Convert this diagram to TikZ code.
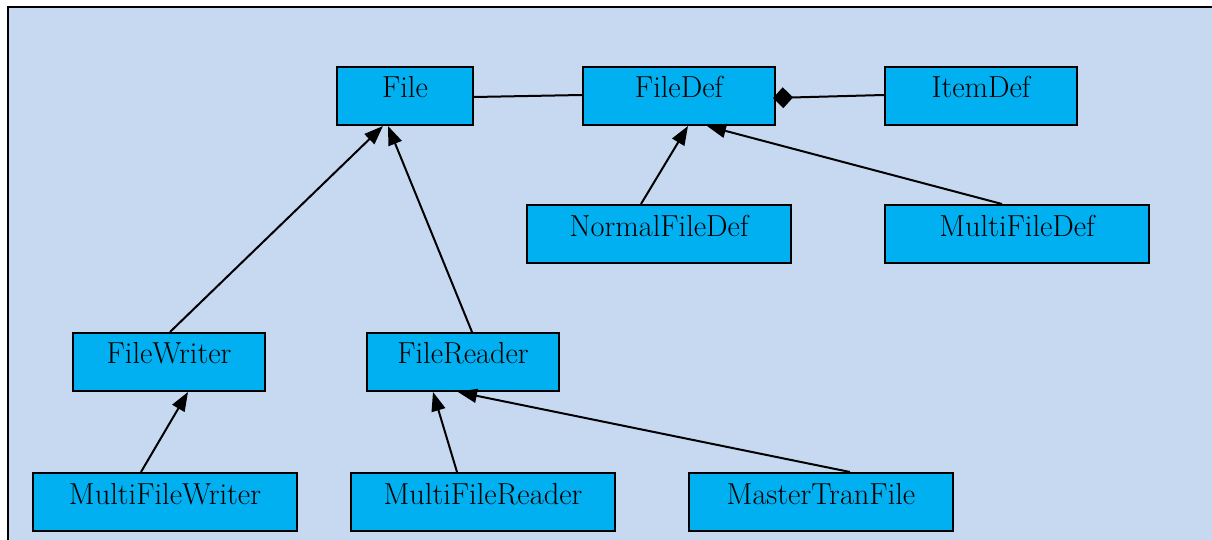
\documentclass[tikz,border=0pt]{standalone}
\usetikzlibrary{arrows.meta}
\definecolor{panel}{RGB}{198,217,241}
\definecolor{classfill}{RGB}{0,176,240}
\tikzset{
  cls/.style={draw=black, line width=1pt, fill=classfill, rectangle,
    minimum height=29pt, inner xsep=0pt, inner ysep=5.5pt,
    text height=10pt, text depth=8pt,
    font=\fontsize{15.2pt}{18pt}\selectfont},
  narrow/.style={cls, minimum width=68pt},
  mid/.style={cls, minimum width=96pt},
  wide/.style={cls, minimum width=132pt},
  inherit/.style={draw=black, line width=1pt,
    -{Triangle[length=9.5pt, width=7pt]}},
  assoc/.style={draw=black, line width=1pt},
  compose/.style={draw=black, line width=1pt,
    -{Diamond[length=10pt, width=10.5pt]}}
}
\begin{document}
\begin{tikzpicture}[x=0.5pt, y=-0.5pt]
  \useasboundingbox (0,0) rectangle (1212,540);
  \clip (0,0) rectangle (1212,540);
  % panel behind the class diagram
  \draw[line width=1pt, fill=panel] (8,7) rectangle (1240,570);

  % classes
  \node[narrow] (File)            at (405,96)  {File};
  \node[mid]    (FileDef)         at (679,96)  {FileDef};
  \node[mid]    (ItemDef)         at (981,96)  {ItemDef};
  \node[wide]   (NormalFileDef)   at (659,234) {NormalFileDef};
  \node[wide]   (MultiFileDef)    at (1017,234){MultiFileDef};
  \node[mid]    (FileWriter)      at (169,362) {FileWriter};
  \node[mid]    (FileReader)      at (463,362) {FileReader};
  \node[wide]   (MultiFileWriter) at (165,502) {MultiFileWriter};
  \node[wide]   (MultiFileReader) at (483,502) {MultiFileReader};
  \node[wide]   (MasterTranFile)  at (821,502) {MasterTranFile};

  % associations
  \draw[assoc] ([shift={(0,1)}]File.east) -- ([shift={(0,-1)}]FileDef.west);
  \draw[compose] ([shift={(0,-1)}]ItemDef.west) -- ([shift={(-3,2)}]FileDef.east);

  % generalisations
  \draw[inherit] ([shift={(1,0)}]FileWriter.north) -- ([shift={(-22,0)}]File.south);
  \draw[inherit] ([shift={(9,0)}]FileReader.north) -- ([shift={(-17,0)}]File.south);
  \draw[inherit] ([shift={(-18,0)}]NormalFileDef.north) -- ([shift={(9,0)}]FileDef.south);
  \draw[inherit] ([shift={(-15,0)}]MultiFileDef.north) -- ([shift={(28,0)}]FileDef.south);
  \draw[inherit] ([shift={(-24,0)}]MultiFileWriter.north) -- ([shift={(19,0)}]FileWriter.south);
  \draw[inherit] ([shift={(-26,0)}]MultiFileReader.north) -- ([shift={(-30,0)}]FileReader.south);
  \draw[inherit] ([shift={(29,0)}]MasterTranFile.north) -- ([shift={(-5,0)}]FileReader.south);
\end{tikzpicture}
\end{document}
